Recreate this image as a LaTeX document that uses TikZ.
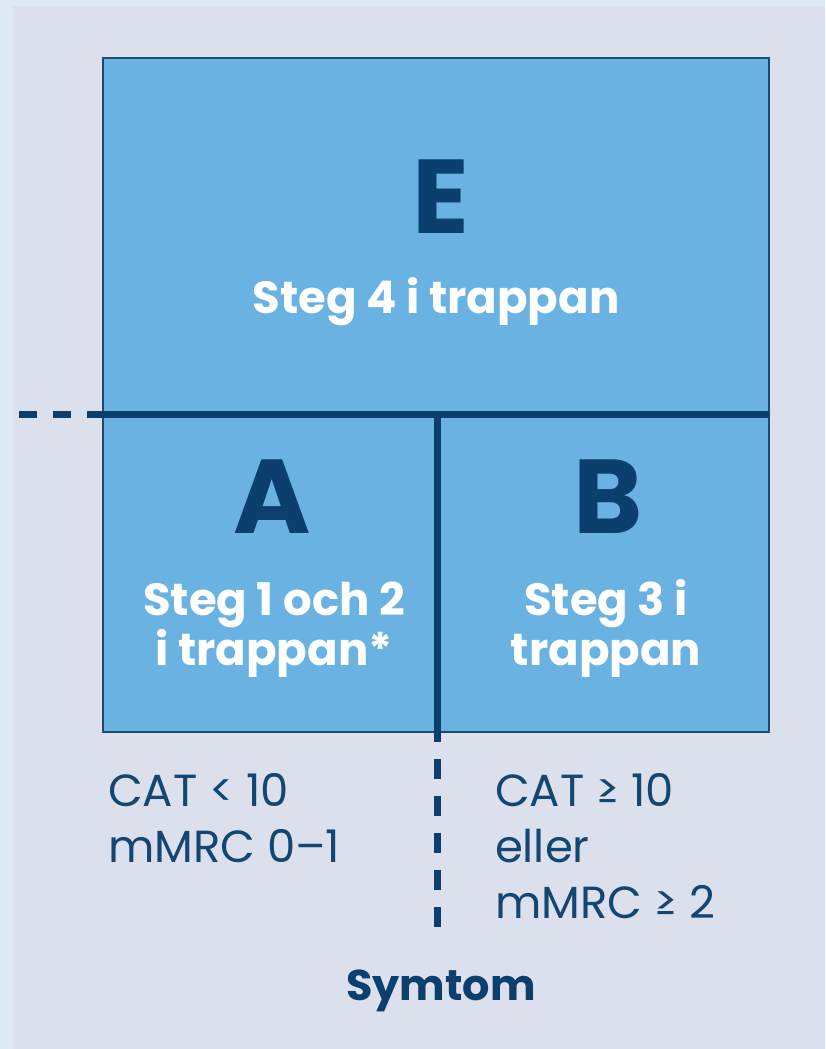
\documentclass[tikz,border=0pt]{standalone}
\usepackage{fontspec}
\setmainfont{Poppins}
\begin{document}
\begin{tikzpicture}[x=1pt,y=-1pt,
  every node/.style={inner sep=0pt,outer sep=0pt},
  bigletter/.style={anchor=base,text=navy,font=\bfseries\fontsize{105}{110}\selectfont},
  stepline/.style={anchor=base,text=white,font=\bfseries\fontsize{45}{50}\selectfont},
  critline/.style={anchor=base west,text=ink,font=\fontsize{45}{50}\selectfont},
  axislabel/.style={anchor=base,text=navy,font=\bfseries\fontsize{43}{48}\selectfont},
  divider/.style={draw=navy,line width=7pt,line cap=butt},
  boxframe/.style={draw=frame,line width=2pt,fill=boxblue}]
\definecolor{sidebg}{HTML}{DDE9F5}
\definecolor{mainbg}{HTML}{DCE0EC}
\definecolor{boxblue}{HTML}{6AB2E2}
\definecolor{frame}{HTML}{1E4A70}
\definecolor{navy}{HTML}{0B3F6E}
\definecolor{ink}{HTML}{144672}
% background panels
\useasboundingbox (0,0) rectangle (825,1049);
\fill[sidebg] (0,0) rectangle (825,1049);
\fill[mainbg] (13,6) rectangle (825,1049);
% main box
\coordinate (tl) at (103,58);
\coordinate (br) at (769,732);
\draw[boxframe] (tl) rectangle (br);
% dividers
\coordinate (hstart) at (19,414);
\coordinate (hsolid) at (87,414);
\coordinate (hend) at (769,414);
\coordinate (vtop) at (437,414);
\coordinate (vsolid) at (437,742);
\coordinate (vdash) at (437,759);
\coordinate (vend) at (437,928);
\draw[divider,dash pattern=on 18pt off 16pt] (hstart) -- (hsolid);
\draw[divider] (hsolid) -- (hend);
\draw[divider] (vtop) -- (vsolid);
\draw[divider,dash pattern=on 20pt off 17pt] (vdash) -- (vend);
% field E
\node[bigletter] (E) at (441,233) {E};
\node[stepline] (E1) at (436,313) {Steg 4 i trappan};
% field A
\node[bigletter] (A) at (272,533) {A};
\node[stepline] (A1) at (274,615) {Steg 1 och 2};
\node[stepline] (A2) at (274,665) {i trappan*};
% field B
\node[bigletter] (B) at (608,533) {B};
\node[stepline] (B1) at (606,615) {Steg 3 i};
\node[stepline] (B2) at (606,665) {trappan};
% criteria below the box
\node[critline] (la1) at (108,806) {CAT < 10};
\node[critline] (la2) at (108,862) {mMRC 0–1};
\node[critline] (lb1) at (495,806) {CAT ≥ 10};
\node[critline] (lb2) at (495,862) {eller};
\node[critline] (lb3) at (495,918) {mMRC ≥ 2};
\node[axislabel] (sym) at (441,1000) {Symtom};
\end{tikzpicture}
\end{document}
